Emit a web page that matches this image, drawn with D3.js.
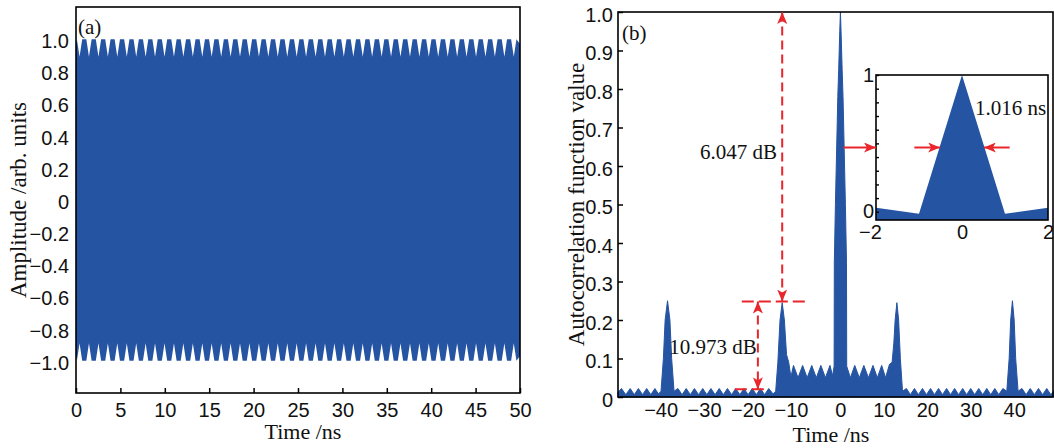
<!DOCTYPE html>
<html>
<head>
<meta charset="utf-8">
<script src="https://cdn.jsdelivr.net/npm/d3@7"></script>
<style>
  body { margin: 0; background: #fff; }
  svg { display: block; font-family: "Liberation Serif", "Times New Roman", serif; }
</style>
</head>
<body>
<div id="chart"></div>
<script>
/* Two panels: (a) chaotic time trace, (b) its autocorrelation with a zoomed inset */

// ---- data ----
// panel (a)
const aTimeTicks = [0, 5, 10, 15, 20, 25, 30, 35, 40, 45, 50];
const aAmpTicks = [-1.0, -0.8, -0.6, -0.4, -0.2, 0, 0.2, 0.4, 0.6, 0.8, 1.0];
// centre of every notch in the envelope of the trace (ns)
const notchTimes = [0.4, 1.46, 2.53, 3.59, 4.65, 5.72, 6.78, 7.84, 8.9, 9.97, 11.03, 12.09,
  13.16, 14.22, 15.28, 16.35, 17.41, 18.47, 19.53, 20.6, 21.66, 22.72, 23.79, 24.85,
  25.91, 26.98, 28.04, 29.1, 30.16, 31.23, 32.29, 33.35, 34.42, 35.48, 36.54, 37.61,
  38.67, 39.73, 40.79, 41.86, 42.92, 43.98, 45.05, 46.11, 47.17, 48.24, 49.3];
const crestLevel = 1.0;   // envelope between notches
const notchLevel = 0.89;  // envelope at the bottom of a notch
const edgeLevel = 0.97;   // envelope at t = 0 and t = 50

// panel (b)
const bTimeTicks = [-40, -30, -20, -10, 0, 10, 20, 30, 40];
const bAcfTicks = [0, 0.1, 0.2, 0.3, 0.4, 0.5, 0.6, 0.7, 0.8, 0.9, 1.0];
// [time ns, autocorrelation] outline of the trace
const acfTrace = [
  [-51.2, 0.012], [-50.4, 0.022], [-49.4, 0.006], [-48.4, 0.022], [-47.45, 0.006], [-46.5, 0.022],
  [-45.55, 0.006], [-44.6, 0.022], [-43.65, 0.006], [-42.7, 0.022], [-41.9, 0.008],
  [-41.3, 0.015], [-40.75, 0.1], [-40.35, 0.2], [-39.8, 0.25], [-39.25, 0.2], [-38.85, 0.1], [-38.3, 0.015],
  [-37.4, 0.022], [-36.45, 0.006], [-35.5, 0.022], [-34.55, 0.006], [-33.6, 0.022], [-32.65, 0.006],
  [-31.7, 0.022], [-30.75, 0.006], [-29.8, 0.022], [-28.85, 0.006], [-27.9, 0.022], [-26.95, 0.006],
  [-26.0, 0.022], [-25.05, 0.006], [-24.1, 0.022], [-23.15, 0.006], [-22.2, 0.022], [-21.25, 0.006],
  [-20.3, 0.022], [-19.35, 0.006], [-18.4, 0.022], [-17.45, 0.006], [-16.5, 0.022], [-15.5, 0.008],
  [-14.9, 0.015], [-14.4, 0.09], [-13.9, 0.2], [-13.4, 0.245], [-12.9, 0.2], [-12.4, 0.11], [-11.9, 0.09],
  [-11.4, 0.052], [-10.8, 0.082], [-9.75, 0.05], [-8.7, 0.082], [-7.65, 0.05], [-6.6, 0.082],
  [-5.55, 0.05], [-4.5, 0.082], [-3.45, 0.05], [-2.4, 0.082], [-1.8, 0.055],
  [-1.45, 0.08], [-1.4, 0.35], [-1.15, 0.5], [-0.6, 0.78], [-0.4, 0.85], [-0.15, 0.95], [0, 1.0],
  [0.15, 0.95], [0.4, 0.85], [0.6, 0.78], [1.15, 0.5], [1.4, 0.35], [1.45, 0.08],
  [2.3, 0.05], [3.3, 0.082], [4.35, 0.05], [5.4, 0.082], [6.45, 0.05], [7.5, 0.082],
  [8.5, 0.05], [9.5, 0.082], [10.4, 0.05], [11.3, 0.085],
  [11.9, 0.09], [12.3, 0.14], [12.6, 0.2], [13.0, 0.245], [13.4, 0.2], [13.8, 0.1], [14.3, 0.015],
  [15.2, 0.022], [16.1, 0.006], [17.05, 0.022], [17.95, 0.006], [18.9, 0.022], [19.8, 0.006],
  [20.75, 0.022], [21.65, 0.006], [22.6, 0.022], [23.5, 0.006], [24.45, 0.022], [25.35, 0.006],
  [26.3, 0.022], [27.2, 0.006], [28.15, 0.022], [29.05, 0.006], [30.0, 0.022], [30.9, 0.006],
  [31.85, 0.022], [32.75, 0.006], [33.7, 0.022], [34.6, 0.006], [35.55, 0.022], [36.45, 0.006],
  [37.4, 0.022],
  [38.3, 0.015], [38.85, 0.1], [39.2, 0.2], [39.6, 0.25], [40.0, 0.2], [40.35, 0.1], [40.9, 0.015],
  [41.8, 0.022], [42.75, 0.006], [43.7, 0.022], [44.65, 0.006], [45.6, 0.022], [46.55, 0.006],
  [47.5, 0.022], [48.45, 0.006], [49.4, 0.02]
];

// inset of panel (b)
const insetTimeTicks = [-2, 0, 2];
const insetValueLabels = [0, 1];
const insetMinorTicks = [0, 0.1, 0.2, 0.3, 0.4, 0.5, 0.6, 0.7, 0.8, 0.9, 1.0];
const insetTrace = [[-2, 0.03], [-1, -0.015], [0, 1.0], [1, -0.015], [2, 0.03]];
const fwhm = 1.016;        // ns, full width at half maximum
const halfLevel = 0.47;     // level of the width arrows

// annotations
const mainPeak = 1.0, sidePeak = 0.248, floorLevel = 0.02;
const sideLobeTime = -13.4, floorMarkTime = -19;
const pbrLabel = "6.047 dB", floorLabel = "10.973 dB", widthLabel = "1.016 ns";

// ---- layout ----
const width = 1054, height = 448;
const blue = "#2554a3", red = "#e8262b";

const svg = d3.select("#chart").append("svg")
  .attr("width", width).attr("height", height)
  .attr("viewBox", [0, 0, width, height]);

const defs = svg.append("defs");
defs.append("marker")
  .attr("id", "arrow")
  .attr("viewBox", "0 0 12 10")
  .attr("refX", 12).attr("refY", 5)
  .attr("markerWidth", 12).attr("markerHeight", 10)
  .attr("markerUnits", "userSpaceOnUse")
  .attr("orient", "auto-start-reverse")
  .append("path")
  .attr("d", "M0,0 L12,5 L0,10 L3,5 Z")
  .attr("fill", red);

const minus = s => s.replace("-", "\u2212");
const fmt1 = d => d === 0 ? "0" : minus(d3.format(".1f")(d));

// ================= panel (a) =================
const xa = d3.scaleLinear().domain([0, 50]).range([76, 520]);
const ya = d3.scaleLinear().domain([-1.2, 1.2]).range([393, 7]);

// envelope built from the notch positions
const envelope = [{ t: 0, v: edgeLevel }];
for (const t of notchTimes) {
  envelope.push({ t: t - 0.3, v: crestLevel }, { t: t, v: notchLevel }, { t: t + 0.3, v: crestLevel });
}
envelope.push({ t: 50, v: edgeLevel });

const gA = svg.append("g");

gA.append("path")
  .datum(envelope)
  .attr("fill", blue)
  .attr("d", d3.area()
    .x(d => xa(d.t))
    .y0(d => ya(-d.v))
    .y1(d => ya(d.v)));

gA.append("rect")
  .attr("x", xa(0)).attr("y", ya(1.2))
  .attr("width", xa(50) - xa(0)).attr("height", ya(-1.2) - ya(1.2))
  .attr("fill", "none").attr("stroke", "#000").attr("stroke-width", 1.6);

gA.append("g")
  .attr("transform", `translate(0,${ya(-1.2)})`)
  .call(d3.axisBottom(xa).tickValues(aTimeTicks).tickSizeInner(-5).tickSizeOuter(0).tickPadding(10))
  .call(g => g.select(".domain").remove())
  .call(g => g.selectAll("line").attr("stroke-width", 1.5))
  .call(g => g.selectAll("text").attr("font-size", 20).attr("font-family", null).attr("fill", "#111"));

gA.append("g")
  .attr("transform", `translate(${xa(0)},0)`)
  .call(d3.axisLeft(ya).tickValues(aAmpTicks).tickSize(0).tickPadding(7).tickFormat(fmt1))
  .call(g => g.select(".domain").remove())
  .call(g => g.selectAll("text").attr("font-size", 20).attr("font-family", null).attr("fill", "#111").attr("dy", "0.42em"));

gA.append("text")
  .attr("x", xa(0) + 2).attr("y", 34)
  .attr("font-size", 21).attr("fill", "#111")
  .text("(a)");

gA.append("text")
  .attr("text-anchor", "middle")
  .attr("x", 303).attr("y", 439)
  .attr("font-size", 22).attr("fill", "#111")
  .text("Time /ns");

gA.append("text")
  .attr("text-anchor", "middle")
  .attr("transform", `translate(26,${ya(0)}) rotate(-90)`)
  .attr("font-size", 23).attr("fill", "#111")
  .text("Amplitude /arb. units");

// ================= panel (b) =================
const xb = d3.scaleLinear().domain([-51.2, 49.4]).range([618, 1055]);
const yb = d3.scaleLinear().domain([0, 1]).range([397, 12]);

const gB = svg.append("g");

gB.append("path")
  .datum(acfTrace)
  .attr("fill", blue)
  .attr("stroke", blue).attr("stroke-width", 1)
  .attr("d", d3.area()
    .x(d => xb(d[0]))
    .y0(yb(0))
    .y1(d => yb(d[1])));

gB.append("rect")
  .attr("x", xb.range()[0]).attr("y", yb(1))
  .attr("width", xb.range()[1] - xb.range()[0] - 2).attr("height", yb(0) - yb(1))
  .attr("fill", "none").attr("stroke", "#000").attr("stroke-width", 1.6);

gB.append("g")
  .attr("transform", `translate(0,${yb(0)})`)
  .call(d3.axisBottom(xb).tickValues(bTimeTicks).tickSize(0).tickPadding(6).tickFormat(d => minus(String(d))))
  .call(g => g.select(".domain").remove())
  .call(g => g.selectAll("text").attr("font-size", 20).attr("font-family", null).attr("fill", "#111")
    .attr("dx", d => d < 0 ? "-0.3em" : 0));

gB.append("g")
  .attr("transform", `translate(${xb.range()[0]},0)`)
  .call(d3.axisLeft(yb).tickValues(bAcfTicks).tickSizeInner(-5).tickSizeOuter(0).tickPadding(5).tickFormat(fmt1))
  .call(g => g.select(".domain").remove())
  .call(g => g.selectAll("line").attr("stroke-width", 1.5))
  .call(g => g.selectAll("text").attr("font-size", 20).attr("font-family", null).attr("fill", "#111").attr("dy", "0.45em"));

gB.append("text")
  .attr("x", xb.range()[0] + 4).attr("y", 40)
  .attr("font-size", 21).attr("fill", "#111")
  .text("(b)");

gB.append("text")
  .attr("text-anchor", "middle")
  .attr("x", 831).attr("y", 442)
  .attr("font-size", 22).attr("fill", "#111")
  .text("Time /ns");

gB.append("text")
  .attr("text-anchor", "middle")
  .attr("transform", `translate(584,${yb(0.5)}) rotate(-90)`)
  .attr("font-size", 23).attr("fill", "#111")
  .text("Autocorrelation function value");

// dashed measurement arrows
const ann = gB.append("g").attr("stroke", red).attr("stroke-width", 2).attr("fill", "none");

ann.append("line")
  .attr("x1", xb(sideLobeTime)).attr("x2", xb(sideLobeTime))
  .attr("y1", yb(sidePeak)).attr("y2", yb(mainPeak))
  .attr("stroke-dasharray", "9,5")
  .attr("marker-start", "url(#arrow)").attr("marker-end", "url(#arrow)");

ann.append("line")
  .attr("x1", xb(-22.7)).attr("x2", xb(-8.2))
  .attr("y1", yb(sidePeak)).attr("y2", yb(sidePeak))
  .attr("stroke-dasharray", "12,5");

ann.append("line")
  .attr("x1", xb(floorMarkTime)).attr("x2", xb(floorMarkTime))
  .attr("y1", yb(sidePeak)).attr("y2", yb(floorLevel))
  .attr("stroke-dasharray", "9,5")
  .attr("marker-start", "url(#arrow)").attr("marker-end", "url(#arrow)");

ann.append("line")
  .attr("x1", xb(-24.3)).attr("x2", xb(-16.7))
  .attr("y1", yb(floorLevel)).attr("y2", yb(floorLevel))
  .attr("stroke-dasharray", "12,5");

gB.append("text")
  .attr("text-anchor", "end")
  .attr("x", xb(-14.6)).attr("y", yb(0.637)).attr("dy", "0.35em")
  .attr("font-size", 21).attr("fill", "#111")
  .text(pbrLabel);

gB.append("text")
  .attr("x", xb(-39.4)).attr("y", yb(0.13)).attr("dy", "0.35em")
  .attr("font-size", 21).attr("fill", "#111")
  .text(floorLabel);

// ================= inset =================
const xi = d3.scaleLinear().domain([-2, 2]).range([876, 1048]);
const yi = d3.scaleLinear().domain([-0.06, 1]).range([220, 75]);

const gI = svg.append("g");

gI.append("rect")
  .attr("x", xi(-2)).attr("y", yi(1))
  .attr("width", xi(2) - xi(-2)).attr("height", yi(-0.06) - yi(1))
  .attr("fill", "#fff");

gI.append("path")
  .datum(insetTrace)
  .attr("fill", blue)
  .attr("d", d3.area()
    .x(d => xi(d[0]))
    .y0(yi(-0.06))
    .y1(d => yi(d[1])));

gI.append("rect")
  .attr("x", xi(-2)).attr("y", yi(1))
  .attr("width", xi(2) - xi(-2)).attr("height", yi(-0.06) - yi(1))
  .attr("fill", "none").attr("stroke", "#000").attr("stroke-width", 1.6);

gI.append("g")
  .attr("transform", `translate(${xi(-2)},0)`)
  .call(d3.axisLeft(yi).tickValues(insetMinorTicks).tickSizeInner(-3).tickSizeOuter(0).tickFormat(""))
  .call(g => g.select(".domain").remove())
  .call(g => g.selectAll("line").attr("stroke-width", 1.4));

gI.append("g")
  .attr("transform", `translate(${xi(-2)},0)`)
  .call(d3.axisLeft(yi).tickValues(insetValueLabels).tickSize(0).tickPadding(2).tickFormat(d3.format("d")))
  .call(g => g.select(".domain").remove())
  .call(g => g.selectAll("text").attr("font-size", 20).attr("font-family", null).attr("fill", "#111").attr("dy", "0.3em"));

gI.append("g")
  .attr("transform", `translate(0,${yi(-0.06)})`)
  .call(d3.axisBottom(xi).tickValues(insetTimeTicks).tickSize(0).tickPadding(5).tickFormat(d => minus(String(d))))
  .call(g => g.select(".domain").remove())
  .call(g => g.selectAll("text").attr("font-size", 20).attr("font-family", null).attr("fill", "#111")
    .attr("dx", d => d < 0 ? "-0.3em" : 0));

// width arrows
const arr = gI.append("g").attr("stroke", red).attr("stroke-width", 2);

arr.append("line")
  .attr("x1", xb(0) + 3).attr("x2", xi(-2))
  .attr("y1", yi(halfLevel)).attr("y2", yi(halfLevel))
  .attr("marker-end", "url(#arrow)");

arr.append("line")
  .attr("x1", xi(-fwhm / 2 - 0.6)).attr("x2", xi(-fwhm / 2))
  .attr("y1", yi(halfLevel)).attr("y2", yi(halfLevel))
  .attr("marker-end", "url(#arrow)");

arr.append("line")
  .attr("x1", xi(fwhm / 2 + 0.6)).attr("x2", xi(fwhm / 2))
  .attr("y1", yi(halfLevel)).attr("y2", yi(halfLevel))
  .attr("marker-end", "url(#arrow)");

gI.append("text")
  .attr("x", xi(0.3)).attr("y", yi(0.76)).attr("dy", "0.35em")
  .attr("font-size", 21).attr("fill", "#111")
  .text(widthLabel);
</script>
</body>
</html>
